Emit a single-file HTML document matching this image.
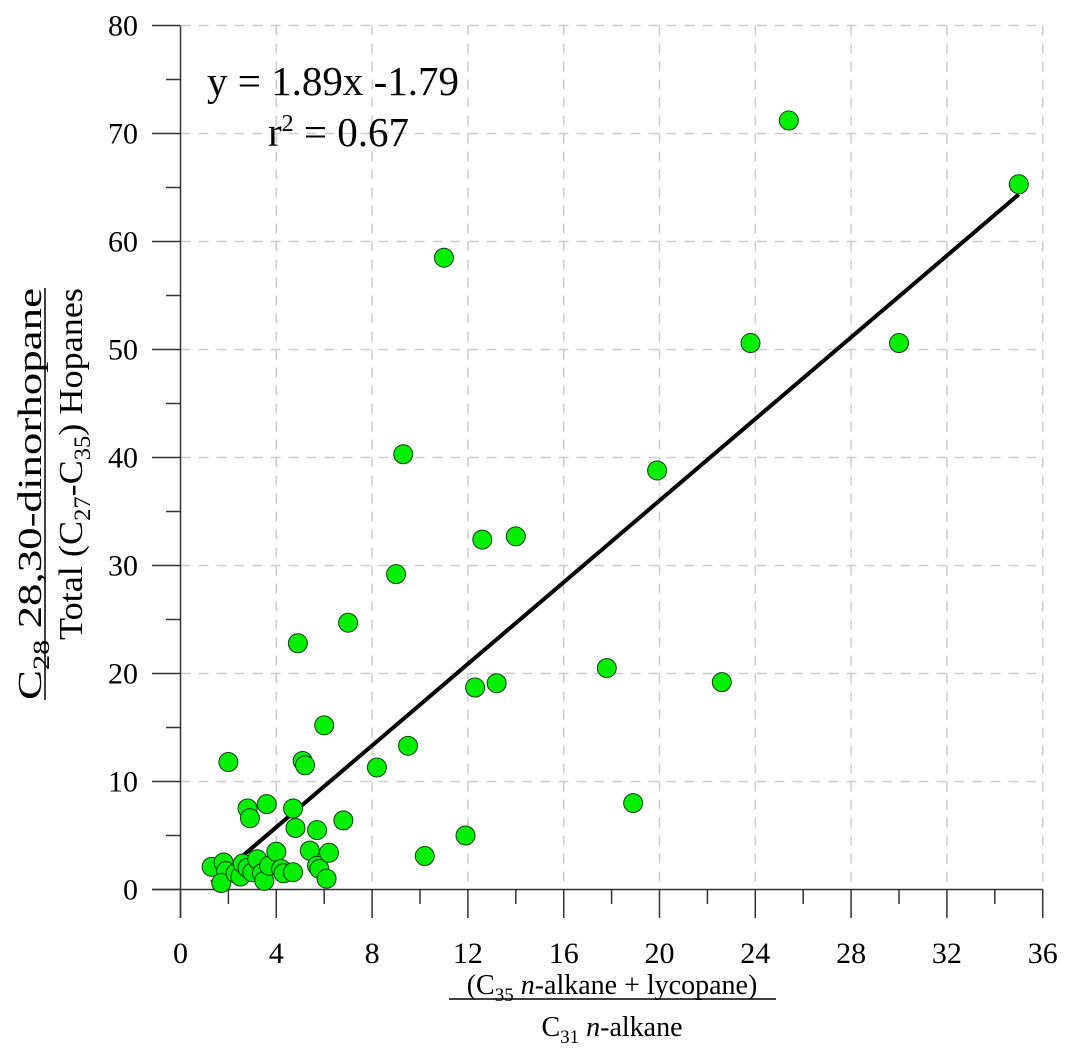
<!DOCTYPE html>
<html><head><meta charset="utf-8"><style>
body{margin:0;background:#fff}
svg text{font-family:"Liberation Serif",serif;fill:#000}
</style></head><body>
<svg id="chart" width="1069" height="1056" xmlns="http://www.w3.org/2000/svg">
<g id="grid"></g>
<g id="axes"></g>
<g id="fit"></g>
<g id="pts"></g>
<text x="207" y="95" font-size="41">y = 1.89x -1.79</text>
<text x="268" y="146" font-size="41">r<tspan dy="-15" font-size="24">2</tspan><tspan dy="15"> = 0.67</tspan></text>
<g>
<text x="612" y="994" font-size="28" text-anchor="middle">(C<tspan dy="7" font-size="19">35</tspan><tspan dy="-7"> </tspan><tspan font-style="italic">n</tspan>-alkane + lycopane)</text>
<line x1="449" y1="999" x2="776" y2="999" stroke="#000" stroke-width="1.5"/>
<text x="612" y="1036" font-size="28" text-anchor="middle">C<tspan dy="7" font-size="19">31</tspan><tspan dy="-7"> </tspan><tspan font-style="italic">n</tspan>-alkane</text>
</g>
<g transform="rotate(-90)">
<text x="-700" y="41" font-size="34" textLength="412" lengthAdjust="spacingAndGlyphs">C<tspan dy="8" font-size="23">28</tspan><tspan dy="-8"> 28,30-dinorhopane</tspan></text>
<line x1="-700" y1="45" x2="-288" y2="45" stroke="#000" stroke-width="1.5"/>
<text x="-640" y="82" font-size="34" textLength="352" lengthAdjust="spacingAndGlyphs">Total (C<tspan dy="8" font-size="23">27</tspan><tspan dy="-8">-C</tspan><tspan dy="8" font-size="23">35</tspan><tspan dy="-8">) Hopanes</tspan></text>
</g>
</svg>
<script>
const xs=[1.3,1.8,1.9,1.7,2.0,2.3,2.5,2.6,2.8,2.9,2.8,3.0,3.2,3.4,3.5,3.6,3.7,4.0,4.2,4.3,4.7,4.8,4.7,4.9,5.1,5.2,5.4,5.7,5.7,5.8,6.0,6.1,6.2,6.8,7.0,8.2,9.0,9.3,9.5,10.2,11.0,11.9,12.3,12.6,13.2,14.0,17.8,18.9,19.9,22.6,23.8,25.4,30.0,35.0];
const ys=[2.1,2.5,1.7,0.6,11.8,1.5,1.2,2.4,7.5,6.6,2.0,1.6,2.8,1.5,0.8,7.9,2.2,3.5,1.9,1.5,7.5,5.7,1.6,22.8,11.9,11.5,3.6,5.5,2.2,1.9,15.2,1.0,3.4,6.4,24.7,11.3,29.2,40.3,13.3,3.1,58.5,5.0,18.7,32.4,19.1,32.7,20.5,8.0,38.8,19.2,50.6,71.2,50.6,65.3];
const xTicks=[0,4,8,12,16,20,24,28,32,36];
const yTicks=[0,10,20,30,40,50,60,70,80];
const fitSlope=1.89, fitInt=-1.79, fitX=[1.3,35];
const X=v=>180.5+v*23.95, Y=v=>889.5-v*10.8;
const NS="http://www.w3.org/2000/svg";
function mk(p,t,a){const e=document.createElementNS(NS,t);for(const k in a)e.setAttribute(k,a[k]);p.appendChild(e);return e;}
const g=document.getElementById('grid'),ax=document.getElementById('axes');
xTicks.forEach(v=>{if(v>0){const l=mk(g,'line',{x1:X(v),x2:X(v),y1:Y(80),y2:Y(0),stroke:'#ccc','stroke-width':1.5,'stroke-dasharray':'10,8'});

}
const t=mk(ax,'line',{x1:X(v),x2:X(v),y1:889,y2:918,stroke:'#333','stroke-width':1.5});


if(v<36)mk(ax,'line',{x1:X(v+2),x2:X(v+2),y1:889,y2:904,stroke:'#333','stroke-width':1.5});
const tx=mk(ax,'text',{x:X(v),y:963,'font-size':30,'text-anchor':'middle'});tx.textContent=v;

});
yTicks.forEach(v=>{if(v>0){const l=mk(g,'line',{x1:X(0),x2:X(36),y1:Y(v),y2:Y(v),stroke:'#ccc','stroke-width':1.5,'stroke-dasharray':'10,8'});

}
mk(ax,'line',{x1:152,x2:180,y1:Y(v),y2:Y(v),stroke:'#333','stroke-width':1.5});
if(v<80)mk(ax,'line',{x1:166,x2:180,y1:Y(v+5),y2:Y(v+5),stroke:'#333','stroke-width':1.5});
const tx=mk(ax,'text',{x:138,y:Y(v)+10,'font-size':30,'text-anchor':'end'});tx.textContent=v;

});
mk(ax,'line',{x1:180.5,x2:180.5,y1:Y(80),y2:918,stroke:'#333','stroke-width':1.5});
mk(ax,'line',{x1:152,x2:X(36),y1:889.5,y2:889.5,stroke:'#333','stroke-width':1.5});
const f=mk(document.getElementById('fit'),'line',{x1:X(fitX[0]),y1:Y(fitSlope*fitX[0]+fitInt),x2:X(fitX[1]),y2:Y(fitSlope*fitX[1]+fitInt),stroke:'#000','stroke-width':4});


const pg=document.getElementById('pts');
xs.forEach((x,i)=>{const c=mk(pg,'circle',{cx:X(x),cy:Y(ys[i]),r:9.5,fill:'#00ee00',stroke:'#1a3a1a','stroke-width':1});

});
</script>
</body></html>
